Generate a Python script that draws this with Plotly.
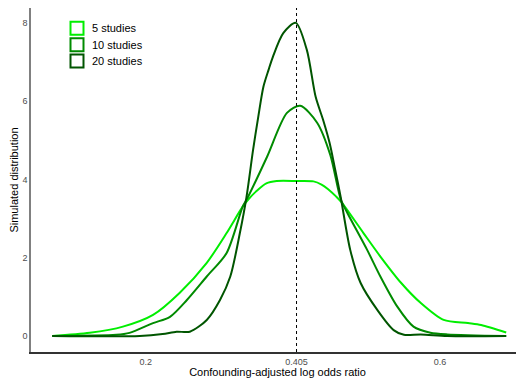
import plotly.graph_objects as go

# 5 studies
x5 = [0.073, 0.124, 0.169, 0.210, 0.246, 0.283, 0.310, 0.332, 0.340, 0.351, 0.364, 0.378, 0.405,
      0.428, 0.439, 0.448, 0.459, 0.466, 0.496, 0.519, 0.547, 0.574, 0.605, 0.638, 0.656, 0.690]
y5 = [0.0, 0.08, 0.24, 0.54, 1.10, 1.87, 2.63, 3.31, 3.50, 3.71, 3.90, 3.96, 3.96,
      3.95, 3.87, 3.75, 3.56, 3.42, 2.63, 2.03, 1.36, 0.84, 0.41, 0.33, 0.28, 0.09]

# 10 studies
x10 = [0.073, 0.160, 0.178, 0.210, 0.233, 0.256, 0.283, 0.310, 0.332, 0.339, 0.365, 0.392, 0.410,
       0.433, 0.451, 0.465, 0.474, 0.501, 0.519, 0.542, 0.564, 0.587, 0.610, 0.690]
y10 = [0.0, 0.03, 0.08, 0.33, 0.49, 0.92, 1.52, 2.12, 3.31, 3.55, 4.58, 5.70, 5.88,
       5.45, 4.62, 3.50, 3.15, 2.20, 1.52, 0.75, 0.24, 0.085, 0.04, 0.0]

# 20 studies
x20 = [0.073, 0.192, 0.223, 0.242, 0.260, 0.283, 0.301, 0.315, 0.328, 0.337, 0.346, 0.353, 0.360,
       0.367, 0.373, 0.387, 0.404, 0.419, 0.431, 0.4415, 0.450, 0.457, 0.465, 0.478, 0.492,
       0.515, 0.537, 0.551, 0.574, 0.610, 0.690]
y20 = [0.0, 0.0, 0.05, 0.11, 0.11, 0.41, 0.92, 1.52, 2.63, 3.55, 4.76, 5.60, 6.37,
       6.80, 7.14, 7.74, 8.00, 7.31, 6.11, 5.50, 4.93, 4.30, 3.55, 2.20, 1.36,
       0.66, 0.15, 0.03, 0.04, 0.0, 0.0]

series_names = ["5 studies", "10 studies", "20 studies"]
series_colors = ["#00ee00", "#008b00", "#005500"]
x_ticks = [0.2, 0.405, 0.6]
x_tick_labels = ["0.2", "0.405", "0.6"]
y_ticks = [0, 2, 4, 6, 8]
ref_value = 0.405

# the page body has an 8px default margin, so the figure starts at (8, 8)
OFF = 8
W, H = 524 - OFF, 378 - OFF
ML, MR, MT, MB = 31 - OFF, 0, 8 - OFF, 26
PW, PH = W - ML - MR, H - MT - MB


def px_to_paper_x(px):
    return (px - OFF - ML) / PW


def py_to_paper_y(py):
    return (378 - MB - py) / PH


fig = go.Figure()
for xs, ys, name, col in zip([x5, x10, x20], [y5, y10, y20], series_names, series_colors):
    fig.add_trace(go.Scatter(x=xs, y=ys, mode="lines", name=name, showlegend=False,
                             line=dict(color=col, width=2, shape="spline", smoothing=0.8)))

fig.add_shape(type="line", x0=ref_value, x1=ref_value, xref="x", y0=0, y1=1, yref="paper",
              line=dict(color="black", width=1, dash="3px,3px"))

# manual legend (outlined square keys)
for i, (name, col) in enumerate(zip(series_names, series_colors)):
    cy = 28.3 + i * 16.4
    fig.add_shape(type="rect", xref="paper", yref="paper",
                  x0=px_to_paper_x(70.5), x1=px_to_paper_x(83.5),
                  y0=py_to_paper_y(cy + 6.5), y1=py_to_paper_y(cy - 6.5),
                  line=dict(color=col, width=2), fillcolor="white")
    fig.add_annotation(xref="paper", yref="paper", x=px_to_paper_x(90), y=py_to_paper_y(cy),
                       xanchor="left", yanchor="middle", text=name, showarrow=False,
                       font=dict(size=11, color="black"))

fig.update_layout(
    width=W, height=H,
    margin=dict(l=ML, r=MR, t=MT, b=MB),
    paper_bgcolor="white", plot_bgcolor="white",
    font=dict(family="Liberation Sans, Arial, sans-serif", color="black"),
    showlegend=False,
    xaxis=dict(range=[0.0441, 0.7142], tickvals=x_ticks, ticktext=x_tick_labels,
               showgrid=False, zeroline=False, showline=True, linecolor="#333333", linewidth=1.5,
               ticks="", tickfont=dict(size=9, color="#4d4d4d"), automargin=False,
               title=dict(text="Confounding-adjusted log odds ratio", font=dict(size=11), standoff=2)),
    yaxis=dict(range=[-0.409, 8.38], tickvals=y_ticks,
               showgrid=False, zeroline=False, showline=True, linecolor="#808080", linewidth=1.5,
               ticks="", tickfont=dict(size=9, color="#4d4d4d"), automargin=False,
               title=dict(text="Simulated distribution", font=dict(size=11), standoff=4)),
)

fig.write_html("out.html")
